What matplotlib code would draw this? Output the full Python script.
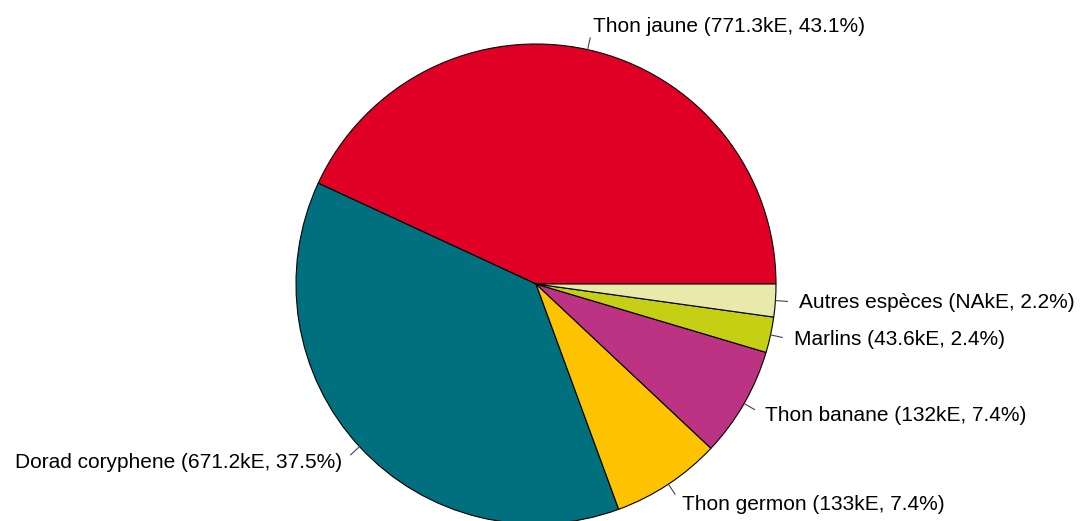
import numpy as np
import matplotlib
matplotlib.use('Agg')
import matplotlib.pyplot as plt

# data
species = ['Thon jaune', 'Dorad coryphene', 'Thon germon', 'Thon banane', 'Marlins', 'Autres espèces']
value_labels = ['771.3', '671.2', '133', '132', '43.6', 'NA']
percents = [43.1, 37.5, 7.4, 7.4, 2.4, 2.2]
colors = ['#E00026', '#00707F', '#FDC300', '#BC3383', '#C5CF13', '#E9E9AB']

W, H = 1082, 521
fig = plt.figure(figsize=(W / 100, H / 100), dpi=100)
ax = fig.add_axes([0, 0, 1, 1])

cx, cy, r = 536, H - 284, 240
wedges, _ = ax.pie(percents, colors=colors, startangle=0, counterclock=True,
                   center=(cx, cy), radius=r, frame=True,
                   wedgeprops=dict(edgecolor='black', linewidth=0.8))
ax.set_xlim(0, W)
ax.set_ylim(0, H)
ax.set_aspect('equal')
ax.axis('off')

# labels like R's pie(): tick from r to 1.05r, text at 1.1r
total = sum(percents)
start = 0.0
for name, v, p in zip(species, value_labels, percents):
    mid = np.deg2rad((start + p / 2) / total * 360)
    start += p
    c, s = np.cos(mid), np.sin(mid)
    ax.plot([cx + r * c, cx + 1.05 * r * c], [cy + r * s, cy + 1.05 * r * s],
            color='#444444', lw=0.8)
    ax.text(cx + 1.1 * r * c, cy + 1.1 * r * s, f'{name} ({v}kE, {p}%)',
            ha='left' if c > 0 else 'right', va='center',
            fontsize=15, family='Liberation Sans')

fig.savefig('out.png', dpi=100)
